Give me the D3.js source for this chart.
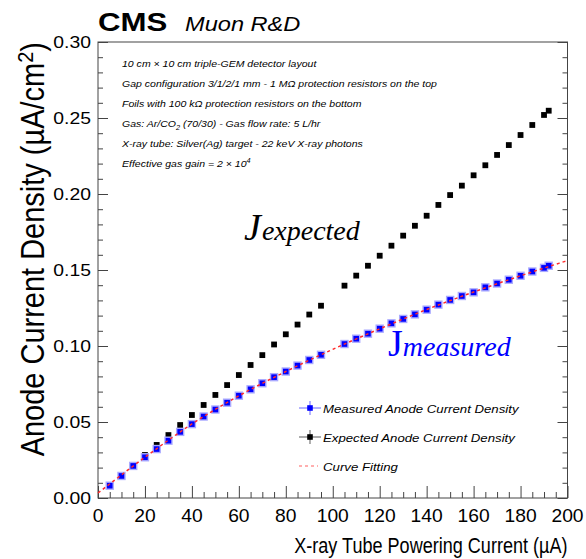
<!DOCTYPE html>
<html>
<head>
<meta charset="utf-8">
<script src="https://cdn.jsdelivr.net/npm/d3@7"></script>
<style>
  html, body { margin: 0; padding: 0; background: #fff; }
  svg { display: block; }
  text { font-family: "Liberation Sans", Arial, Helvetica, sans-serif; }
</style>
</head>
<body>
<svg id="chart" width="586" height="559"></svg>
<script>
// X-ray tube current (µA) at which the anode current was recorded
const current = [5, 10, 15, 20, 25, 30, 35, 40, 45, 50, 55, 60, 65, 70, 75, 80, 85, 90, 95,
  105, 110, 115, 120, 125, 130, 135, 140, 145, 150, 155, 160, 165, 170, 175, 180, 185, 190, 192];

// Expected anode current density (µA/cm²)
const expected = [0.0081, 0.0151, 0.0217, 0.0283, 0.0349, 0.0414, 0.0480, 0.0546, 0.0612, 0.0678,
  0.0743, 0.0809, 0.0875, 0.0940, 0.1010, 0.1077, 0.1141, 0.1207, 0.1265,
  0.1397, 0.1463, 0.1528, 0.1594, 0.1660, 0.1726, 0.1791, 0.1857, 0.1928, 0.1993, 0.2055,
  0.2123, 0.2189, 0.2257, 0.2322, 0.2388, 0.2454, 0.2520, 0.2548];

// Measured anode current density (µA/cm²)
const measured = [0.0081, 0.0145, 0.0211, 0.0268, 0.0322, 0.0377, 0.0435, 0.0486, 0.0536, 0.0582,
  0.0627, 0.0673, 0.0715, 0.0755, 0.0795, 0.0832, 0.0871, 0.0908, 0.0942,
  0.1013, 0.1048, 0.1081, 0.1114, 0.1149, 0.1178, 0.1208, 0.1239, 0.1272, 0.1303, 0.1329,
  0.1353, 0.1386, 0.1411, 0.1436, 0.1462, 0.1490, 0.1514, 0.1528];

// Fitted curve through the measured points
const fitCurrent = [0, 20, 40, 60, 80, 100, 120, 140, 160, 180, 200];
const fitDensity = [0.0033, 0.0268, 0.0487, 0.0672, 0.0832, 0.0978, 0.1113, 0.1240, 0.1355, 0.1462, 0.1562];

// Axis ticks
const xMajorTicks = [0, 20, 40, 60, 80, 100, 120, 140, 160, 180, 200];
const xMinorStep = 5;
const yMajorTicks = [0.00, 0.05, 0.10, 0.15, 0.20, 0.25, 0.30];
const yMinorStep = 0.01;

// Detector description lines
const infoLines = [
  [["10 cm × 10 cm triple-GEM detector layout", ""]],
  [["Gap configuration 3/1/2/1 mm - 1 MΩ protection resistors on the top", ""]],
  [["Foils with 100 kΩ protection resistors on the bottom", ""]],
  [["Gas: Ar/CO", ""], ["2", "sub"], [" (70/30) - Gas flow rate: 5 L/hr", ""]],
  [["X-ray tube: Silver(Ag) target - 22 keV X-ray photons", ""]],
  [["Effective gas gain = 2 × 10", ""], ["4", "sup"]]
];

const legendLabels = ["Measured Anode Current Density", "Expected Anode Current Density", "Curve Fitting"];

const svg = d3.select("#chart");
const SX = 1.18;           // horizontal glyph stretch of the typeface
const frame = { left: 98, right: 567.5, top: 42, bottom: 498 };

const x = d3.scaleLinear().domain([0, 200]).range([frame.left, frame.right]);
const y = d3.scaleLinear().domain([0, 0.30]).range([frame.bottom, frame.top]);

const axisColor = "#444";

// helper: stretched text anchored at (px, py)
function stretchedText(px, py, str, opts = {}) {
  const g = svg.append("g").attr("transform", `translate(${px},${py}) scale(${opts.sx || SX},1)` + (opts.rotate ? ` rotate(${opts.rotate})` : ""));
  const t = g.append("text")
    .attr("x", 0).attr("y", 0)
    .attr("font-size", opts.size || 12)
    .attr("font-weight", opts.weight || "normal")
    .attr("font-style", opts.style || "normal")
    .attr("text-anchor", opts.anchor || "start")
    .attr("fill", opts.fill || "#000");
  if (opts.family) t.style("font-family", opts.family);
  t.text(str);
  return t;
}

// Frame
svg.append("rect")
  .attr("x", frame.left).attr("y", frame.top)
  .attr("width", frame.right - frame.left).attr("height", frame.bottom - frame.top)
  .attr("fill", "none").attr("stroke", axisColor).attr("stroke-width", 1);

// X axis ticks (bottom)
const xMinor = d3.range(0, 200 + 0.001, xMinorStep).filter(v => v % 20 !== 0);
const gx = svg.append("g").attr("transform", `translate(0,${frame.bottom})`)
  .call(d3.axisBottom(x).tickValues(xMajorTicks).tickSize(-12).tickFormat(""));
const gxm = svg.append("g").attr("transform", `translate(0,${frame.bottom})`)
  .call(d3.axisBottom(x).tickValues(xMinor).tickSize(-6).tickFormat(""));
[gx, gxm].forEach(g => {
  g.select(".domain").remove();
  g.selectAll("line").attr("stroke", axisColor);
});
xMajorTicks.forEach(v => {
  stretchedText(x(v), 521.5, String(v), { size: 17.5, anchor: "middle", sx: 1.1 });
});

// Y axis ticks (left and right)
const yMinor = d3.range(0, 0.3001, yMinorStep).filter(v => Math.abs(Math.round(v * 100) % 5) !== 0);
const gyl = svg.append("g").attr("transform", `translate(${frame.left},0)`)
  .call(d3.axisLeft(y).tickValues(yMajorTicks).tickSize(-10).tickFormat(""));
const gylm = svg.append("g").attr("transform", `translate(${frame.left},0)`)
  .call(d3.axisLeft(y).tickValues(yMinor).tickSize(-5).tickFormat(""));
const gyr = svg.append("g").attr("transform", `translate(${frame.right},0)`)
  .call(d3.axisRight(y).tickValues(yMajorTicks).tickSize(-10).tickFormat(""));
const gyrm = svg.append("g").attr("transform", `translate(${frame.right},0)`)
  .call(d3.axisRight(y).tickValues(yMinor).tickSize(-5).tickFormat(""));
[gyl, gylm, gyr, gyrm].forEach(g => {
  g.select(".domain").remove();
  g.selectAll("line").attr("stroke", axisColor);
});
yMajorTicks.forEach(v => {
  stretchedText(91, y(v) + 6.2, d3.format(".2f")(v), { size: 17, anchor: "end", sx: 1.14 });
});

// Axis titles
stretchedText(frame.right, 553, "X-ray Tube Powering Current (µA)", { size: 21.5, anchor: "end", sx: 0.84 });
const yt = stretchedText(44, frame.top, "", { size: 29, anchor: "end", rotate: -90, sx: 1.12 });
yt.append("tspan").text("Anode Current Density (µA/cm");
yt.append("tspan").attr("dy", -10).attr("font-size", 20).text("2");
yt.append("tspan").attr("dy", 10).text(")");

// Header
stretchedText(98, 31, "CMS", { size: 26, weight: "bold", sx: 1.2 });
stretchedText(185, 31, "Muon R&D", { size: 20, style: "italic" });

// Detector description
infoLines.forEach((parts, i) => {
  const t = stretchedText(122, 66.5 + i * 20, "", { size: 9.4, style: "italic", sx: 1.12 });
  parts.forEach(([s, kind]) => {
    if (kind === "sub") t.append("tspan").attr("dy", 3).attr("font-size", 6.5).text(s);
    else if (kind === "sup") t.append("tspan").attr("dy", -4).attr("font-size", 6.5).text(s);
    else {
      const sp = t.append("tspan").text(s);
      if (t.selectAll("tspan").size() > 1) sp.attr("dy", -3);
    }
  });
});

// Fitted curve
const fitLine = d3.line()
  .x((d, i) => x(fitCurrent[i]))
  .y(d => y(d))
  .curve(d3.curveMonotoneX);

// Expected points
svg.append("g").selectAll("rect")
  .data(expected)
  .join("rect")
  .attr("x", (d, i) => x(current[i]) - 2.9)
  .attr("y", d => y(d) - 2.9)
  .attr("width", 5.8).attr("height", 5.8)
  .attr("fill", "#000");

// Measured points with their uncertainty halo
const gm = svg.append("g");
gm.selectAll("rect.halo")
  .data(measured)
  .join("rect").attr("class", "halo")
  .attr("x", (d, i) => x(current[i]) - 4.2)
  .attr("y", d => y(d) - 4.2)
  .attr("width", 8.4).attr("height", 8.4)
  .attr("fill", "#a9a9ff");
gm.selectAll("rect.pt")
  .data(measured)
  .join("rect").attr("class", "pt")
  .attr("x", (d, i) => x(current[i]) - 2.8)
  .attr("y", d => y(d) - 2.8)
  .attr("width", 5.6).attr("height", 5.6)
  .attr("fill", "#0000ff");

svg.append("path")
  .datum(fitDensity)
  .attr("d", fitLine)
  .attr("fill", "none")
  .attr("stroke", "#ff2a2a")
  .attr("stroke-width", 1.5)
  .attr("stroke-dasharray", "3,3");

// Curve labels
const serif = "'Liberation Serif', 'Times New Roman', serif";
const je = svg.append("text").attr("x", 244).attr("y", 240)
  .style("font-family", serif).attr("font-style", "italic").attr("fill", "#000");
je.append("tspan").attr("font-size", 38).text("J");
je.append("tspan").attr("font-size", 28).attr("dx", 1).text("expected");

const jm = svg.append("text").attr("x", 388).attr("y", 356)
  .style("font-family", serif).attr("fill", "#0000ff");
jm.append("tspan").attr("font-size", 38).text("J");
jm.append("tspan").attr("font-size", 28).attr("font-style", "italic").attr("dx", 0).text("measured");

// Legend
const legY = [408, 437, 466];
const lg = svg.append("g");
// measured entry
lg.append("line").attr("x1", 299).attr("x2", 321).attr("y1", legY[0]).attr("y2", legY[0]).attr("stroke", "#8080ff").attr("stroke-width", 1.2);
lg.append("line").attr("x1", 310).attr("x2", 310).attr("y1", legY[0] - 7).attr("y2", legY[0] + 7).attr("stroke", "#8080ff").attr("stroke-width", 1.2);
lg.append("rect").attr("x", 307.2).attr("y", legY[0] - 2.8).attr("width", 5.6).attr("height", 5.6).attr("fill", "#0000ff");
// expected entry
lg.append("line").attr("x1", 299).attr("x2", 321).attr("y1", legY[1]).attr("y2", legY[1]).attr("stroke", "#777").attr("stroke-width", 1.2);
lg.append("line").attr("x1", 310).attr("x2", 310).attr("y1", legY[1] - 7).attr("y2", legY[1] + 7).attr("stroke", "#777").attr("stroke-width", 1.2);
lg.append("rect").attr("x", 307.2).attr("y", legY[1] - 2.8).attr("width", 5.6).attr("height", 5.6).attr("fill", "#000");
// fit entry
lg.append("line").attr("x1", 299).attr("x2", 318).attr("y1", legY[2]).attr("y2", legY[2])
  .attr("stroke", "#ff6060").attr("stroke-width", 1.2).attr("stroke-dasharray", "3,3");
legendLabels.forEach((s, i) => {
  stretchedText(323, legY[i] + 4.5, s, { size: 11.5, style: "italic", sx: 1.15 });
});
</script>
</body>
</html>
